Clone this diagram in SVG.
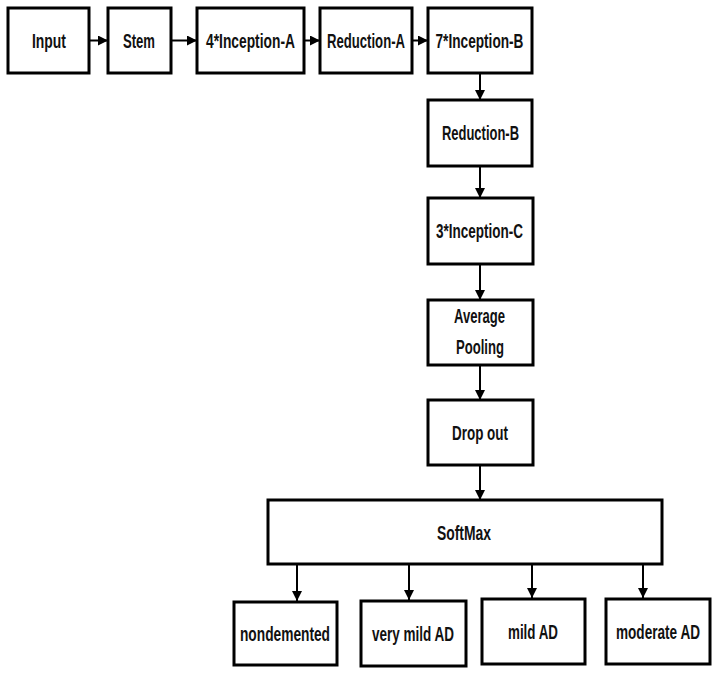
<svg xmlns="http://www.w3.org/2000/svg" width="717" height="673" viewBox="0 0 717 673">
<style>
rect{fill:#fff;stroke:#000;stroke-width:3}
text{font-family:"Liberation Sans",Arial,sans-serif;font-weight:bold;font-size:21px;fill:#111;text-anchor:middle}
.c line{stroke:#000;stroke-width:2;marker-end:url(#ah)}
</style>
<defs>
<marker id="ah" viewBox="0 0 10 10" refX="10" refY="5" markerWidth="5" markerHeight="5" orient="auto" markerUnits="strokeWidth">
<path d="M0,0 L10,5 L0,10 Z" fill="#000"/>
</marker>
</defs>
<g class="c">
<line x1="89" y1="40.5" x2="108" y2="40.5"/>
<line x1="171" y1="40.5" x2="197" y2="40.5"/>
<line x1="304" y1="40.5" x2="320" y2="40.5"/>
<line x1="412" y1="40.5" x2="428" y2="40.5"/>
<line x1="480" y1="73" x2="480" y2="100"/>
<line x1="480" y1="166" x2="480" y2="198"/>
<line x1="480" y1="264" x2="480" y2="300"/>
<line x1="480" y1="365" x2="480" y2="400"/>
<line x1="480" y1="465" x2="480" y2="500"/>
<line x1="297" y1="564" x2="297" y2="601"/>
<line x1="409" y1="564" x2="409" y2="600"/>
<line x1="532" y1="564" x2="532" y2="598"/>
<line x1="643" y1="564" x2="643" y2="598"/>
</g>
<g id="input"><rect x="8" y="8" width="81" height="65"/><text transform="scale(0.66 1)" x="74.24" y="48" textLength="51.5" lengthAdjust="spacingAndGlyphs">Input</text></g>
<g id="stem"><rect x="108" y="8" width="63" height="65"/><text transform="scale(0.66 1)" x="210.61" y="48" textLength="48.5" lengthAdjust="spacingAndGlyphs">Stem</text></g>
<g id="incA"><rect x="197" y="8" width="107" height="65"/><text transform="scale(0.66 1)" x="379.55" y="48" textLength="134.8" lengthAdjust="spacingAndGlyphs">4*Inception-A</text></g>
<g id="redA"><rect x="320" y="8" width="92" height="65"/><text transform="scale(0.66 1)" x="554.55" y="48" textLength="118.2" lengthAdjust="spacingAndGlyphs">Reduction-A</text></g>
<g id="incB"><rect x="428" y="8" width="104" height="65"/><text transform="scale(0.66 1)" x="726.52" y="48" textLength="133.3" lengthAdjust="spacingAndGlyphs">7*Inception-B</text></g>
<g id="redB"><rect x="428" y="100" width="104" height="66"/><text transform="scale(0.66 1)" x="728.03" y="140.5" textLength="116.7" lengthAdjust="spacingAndGlyphs">Reduction-B</text></g>
<g id="incC"><rect x="428" y="198" width="105" height="66"/><text transform="scale(0.66 1)" x="726.52" y="238.5" textLength="131.8" lengthAdjust="spacingAndGlyphs">3*Inception-C</text></g>
<g id="avgpool"><rect x="428" y="300" width="105" height="65"/><text transform="scale(0.66 1)" x="726.52" y="323" textLength="77.3" lengthAdjust="spacingAndGlyphs">Average</text><text transform="scale(0.66 1)" x="727.27" y="354" textLength="72.7" lengthAdjust="spacingAndGlyphs">Pooling</text></g>
<g id="dropout"><rect x="428" y="400" width="105" height="65"/><text transform="scale(0.66 1)" x="727.27" y="440" textLength="84.8" lengthAdjust="spacingAndGlyphs">Drop out</text></g>
<g id="softmax"><rect x="268" y="500" width="394" height="64"/><text transform="scale(0.66 1)" x="703.03" y="540" textLength="81.8" lengthAdjust="spacingAndGlyphs">SoftMax</text></g>
<g id="nondemented"><rect x="234" y="602" width="103" height="63"/><text transform="scale(0.66 1)" x="431.82" y="641" textLength="136.4" lengthAdjust="spacingAndGlyphs">nondemented</text></g>
<g id="verymild"><rect x="361" y="601" width="105" height="65"/><text transform="scale(0.66 1)" x="625.76" y="641" textLength="124.2" lengthAdjust="spacingAndGlyphs">very mild AD</text></g>
<g id="mild"><rect x="482" y="599" width="103" height="65"/><text transform="scale(0.66 1)" x="807.58" y="639" textLength="75.8" lengthAdjust="spacingAndGlyphs">mild AD</text></g>
<g id="moderate"><rect x="606" y="599" width="104" height="65"/><text transform="scale(0.66 1)" x="996.97" y="639" textLength="127.3" lengthAdjust="spacingAndGlyphs">moderate AD</text></g>
</svg>
